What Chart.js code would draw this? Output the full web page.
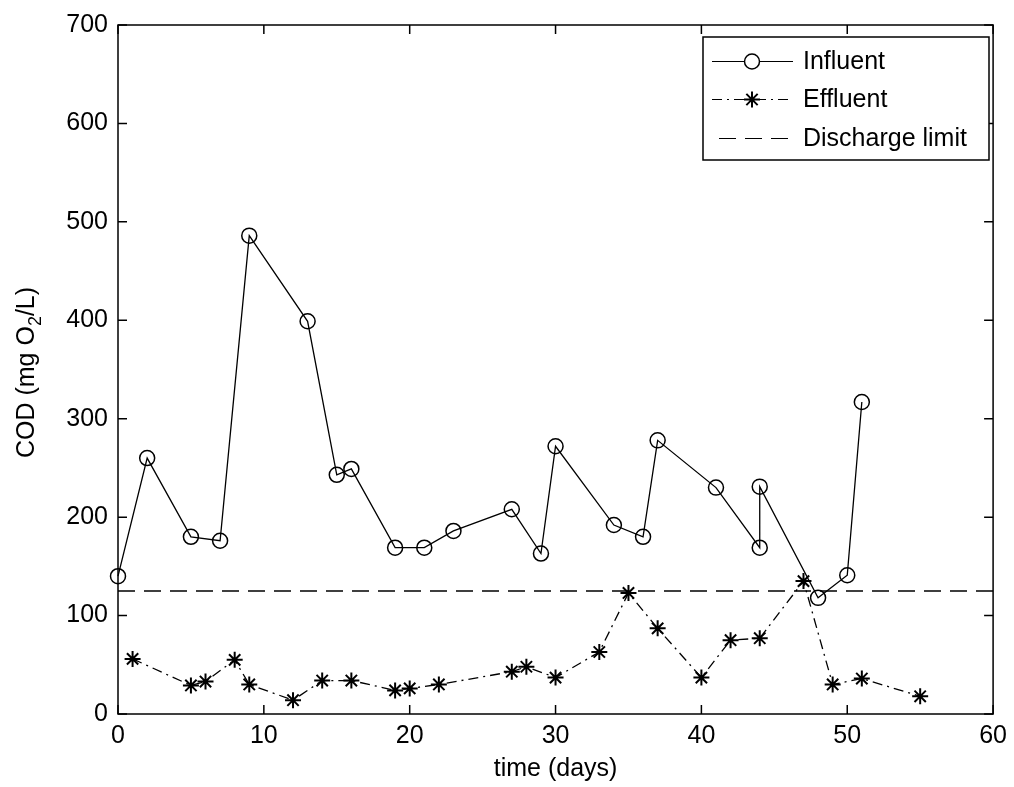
<!DOCTYPE html>
<html>
<head>
<meta charset="utf-8">
<script src="https://cdn.jsdelivr.net/npm/chart.js@4"></script>
<style>
  body { margin: 0; background: #fff; }
  #wrap { width: 1014px; height: 787px; }
</style>
</head>
<body>
<div id="wrap"><canvas id="grafico" width="1014" height="787"></canvas></div>
<script>
// dados (dias, mg O2/L)
const influentDays = [0, 2, 5, 7, 9, 13, 15, 16, 19, 21, 23, 27, 29, 30, 34, 36, 37, 41, 44, 44, 48, 50, 51];
const influentCod = [140, 260, 180, 176, 486, 399, 243, 249, 169, 169, 186, 208, 163, 272, 192, 180, 278, 230, 169, 231, 118, 141, 317];
const effluentDays = [1, 5, 6, 8, 9, 12, 14, 16, 19, 20, 22, 27, 28, 30, 33, 35, 37, 40, 42, 44, 47, 49, 51, 55];
const effluentCod = [56, 29, 33, 55, 30, 14, 34, 34, 24, 26, 30, 43, 48, 37, 63, 123, 87, 37, 75, 77, 135, 30, 36, 18];
const limitDays = [0, 60];
const limitCod = [125, 125];
const xTicks = [0, 10, 20, 30, 40, 50, 60];
const yTicks = [0, 100, 200, 300, 400, 500, 600, 700];
const legendLabels = ["Influent", "Effluent", "Discharge limit"];

const FONTE = '"Liberation Sans", Arial, sans-serif';
const pares = (xs, ys) => xs.map((x, i) => ({ x: x, y: ys[i] }));

Chart.defaults.font.family = FONTE;
Chart.defaults.font.size = 25;
Chart.defaults.color = "#000";

// moldura com os tracinhos para dentro, estilo matlab
const moldura = {
  id: "moldura",
  afterDatasetsDraw(chart) {
    const { ctx, chartArea: a, scales: { x, y } } = chart;
    ctx.save();
    ctx.strokeStyle = "#000";
    ctx.lineWidth = 1.5;
    ctx.strokeRect(a.left, a.top, a.right - a.left, a.bottom - a.top);
    ctx.beginPath();
    xTicks.forEach(v => {
      const px = x.getPixelForValue(v);
      ctx.moveTo(px, a.bottom); ctx.lineTo(px, a.bottom - 9);
      ctx.moveTo(px, a.top); ctx.lineTo(px, a.top + 9);
    });
    yTicks.forEach(v => {
      const py = y.getPixelForValue(v);
      ctx.moveTo(a.left, py); ctx.lineTo(a.left + 9, py);
      ctx.moveTo(a.right, py); ctx.lineTo(a.right - 9, py);
    });
    ctx.stroke();
    ctx.restore();
  }
};

// titulo do eixo y com o subscrito
const tituloY = {
  id: "tituloY",
  afterDraw(chart) {
    const { ctx, chartArea: a } = chart;
    const partes = [["COD (mg O", 25, 0], ["2", 18, 7], ["/L)", 25, 0]];
    ctx.save();
    ctx.translate(34, (a.top + a.bottom) / 2 + 3);
    ctx.rotate(-Math.PI / 2);
    ctx.fillStyle = "#000";
    ctx.textBaseline = "alphabetic";
    let total = 0;
    partes.forEach(p => { ctx.font = `${p[1]}px ${FONTE}`; total += ctx.measureText(p[0]).width; });
    let pos = -total / 2;
    partes.forEach(p => {
      ctx.font = `${p[1]}px ${FONTE}`;
      ctx.fillText(p[0], pos, p[2]);
      pos += ctx.measureText(p[0]).width;
    });
    ctx.restore();
  }
};

// legenda em caixa no canto superior direito
const legenda = {
  id: "legenda",
  afterDraw(chart) {
    const { ctx } = chart;
    const box = { l: 703, t: 37, r: 989, b: 160 };
    const linhas = [61, 99, 138];
    ctx.save();
    ctx.fillStyle = "#fff";
    ctx.fillRect(box.l, box.t, box.r - box.l, box.b - box.t);
    ctx.strokeStyle = "#000";
    ctx.lineWidth = 1.5;
    ctx.strokeRect(box.l, box.t, box.r - box.l, box.b - box.t);
    chart.data.datasets.forEach((ds, i) => {
      const yy = linhas[i] + 0.5;
      ctx.strokeStyle = "#000";
      ctx.fillStyle = "#000";
      ctx.lineWidth = 1;
      ctx.setLineDash(ds.borderDash || []);
      ctx.beginPath();
      ctx.moveTo(i === 2 ? 719 : 712, yy);
      ctx.lineTo(793, yy);
      ctx.stroke();
      ctx.setLineDash([]);
      if (ds.pointRadius > 0) {
        ctx.lineWidth = ds.pointBorderWidth;
        ctx.fillStyle = ds.pointStyle === "circle" ? "#fff" : "#000";
        Chart.helpers.drawPoint(ctx, { pointStyle: ds.pointStyle, radius: ds.pointRadius, rotation: 0, borderWidth: ds.pointBorderWidth }, 752, yy);
      }
      ctx.fillStyle = "#000";
      ctx.font = `25px ${FONTE}`;
      ctx.textBaseline = "middle";
      ctx.fillText(legendLabels[i], 803, yy + 1);
    });
    ctx.restore();
  }
};

new Chart(document.getElementById("grafico"), {
  type: "line",
  data: {
    datasets: [
      {
        label: legendLabels[0],
        data: pares(influentDays, influentCod),
        borderColor: "#000",
        borderWidth: 1.3,
        pointStyle: "circle",
        pointRadius: 7.5,
        pointBorderWidth: 1.5,
        pointBorderColor: "#000",
        pointBackgroundColor: "rgba(0,0,0,0)",
        tension: 0,
        clip: false,
      },
      {
        label: legendLabels[1],
        data: pares(effluentDays, effluentCod),
        borderColor: "#000",
        borderWidth: 1.3,
        borderDash: [10, 5, 2, 5],
        pointStyle: "star",
        pointRadius: 8,
        pointBorderWidth: 2,
        pointBorderColor: "#000",
        pointBackgroundColor: "#000",
        tension: 0,
        clip: false,
      },
      {
        label: legendLabels[2],
        data: pares(limitDays, limitCod),
        borderColor: "#000",
        borderWidth: 1.5,
        borderDash: [17, 9],
        pointRadius: 0,
        tension: 0,
      }
    ]
  },
  options: {
    responsive: false,
    animation: false,
    layout: { padding: { top: 23, right: 14, left: 0, bottom: 0 } },
    plugins: { legend: { display: false }, tooltip: { enabled: false } },
    scales: {
      x: {
        type: "linear",
        min: 0,
        max: 60,
        afterBuildTicks: s => { s.ticks = xTicks.map(v => ({ value: v })); },
        ticks: { padding: 7, maxRotation: 0, autoSkip: false },
        grid: { display: false, drawTicks: false },
        border: { display: false },
        title: { display: true, text: "time (days)", font: { size: 25 }, padding: { top: 0, bottom: 3 } },
        afterFit: s => { s.height = 73; }
      },
      y: {
        min: 0,
        max: 700,
        afterBuildTicks: s => { s.ticks = yTicks.map(v => ({ value: v })); },
        ticks: { padding: 10, autoSkip: false },
        grid: { display: false, drawTicks: false },
        border: { display: false },
        afterFit: s => { s.width = 118; }
      }
    }
  },
  plugins: [moldura, tituloY, legenda]
});
</script>
</body>
</html>
